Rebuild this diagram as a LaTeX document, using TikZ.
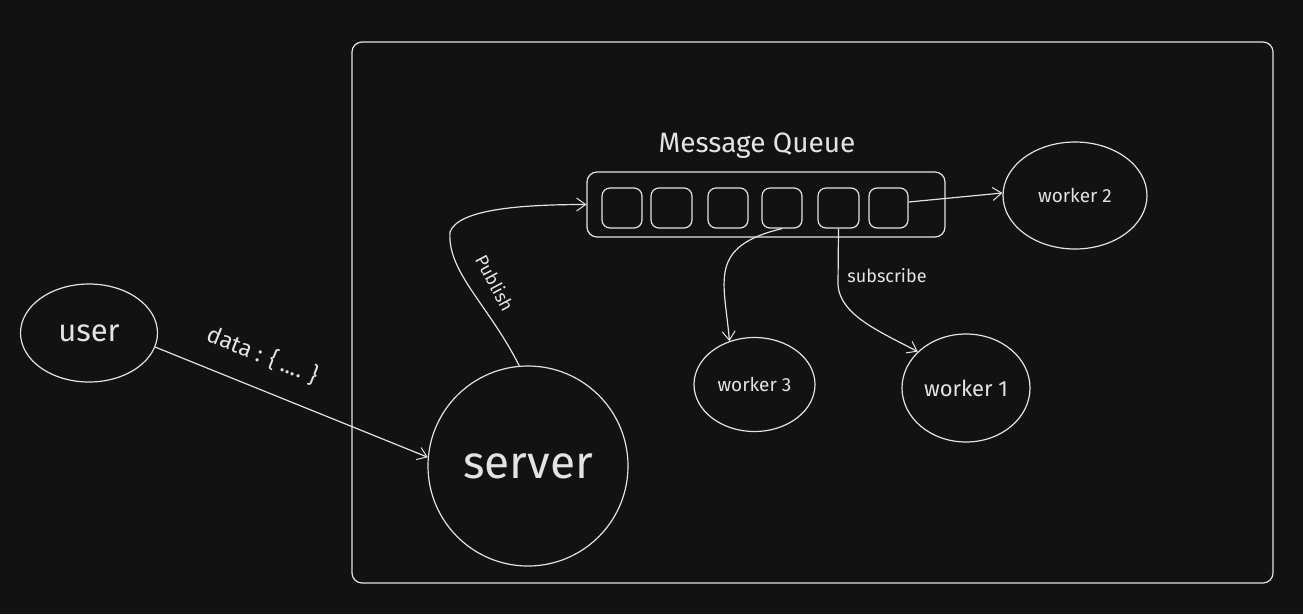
\documentclass[tikz,border=0pt]{standalone}
\usepackage{fontspec}
\setmainfont{Fira Sans}
\usetikzlibrary{shapes.geometric,arrows.meta}
\definecolor{bg}{HTML}{121212}
\definecolor{ink}{HTML}{E3E3E3}
\tikzset{
  every node/.style={text=ink},
  line/.style={draw=ink, line width=1.2pt},
  arr/.style={line, -{Straight Barb[length=9pt,width=13pt,line width=1pt]}},
  oval/.style={line, ellipse, inner sep=0pt},
  cell/.style={line, rounded corners=8pt, minimum width=40pt, minimum height=40pt, inner sep=0pt},
  lbl/.style={inner sep=1pt, font=\fontsize{18}{20}\selectfont}
}
\begin{document}
\begin{tikzpicture}[x=1pt,y=-1pt]
\fill[bg] (0,0) rectangle (1303,614);
\useasboundingbox (0,0) rectangle (1303,614);
% frame
\draw[line, rounded corners=10pt] (352,42) rectangle (1273,583);
% nodes
\node[oval, minimum width=137pt, minimum height=98pt, font=\fontsize{31}{34}\selectfont] (user) at (89,333) {user};
\node[oval, circle, minimum size=200pt, font=\fontsize{46}{50}\selectfont] (server) at (528,466) {server};
\node[line, rounded corners=10pt, minimum width=358pt, minimum height=65pt, inner sep=0pt] (queue) at (766,204.5) {};
\node[font=\fontsize{28}{30}\selectfont] (title) at (757,146) {Message Queue};
\node[cell] (q1) at (622,208) {};
\node[cell, minimum width=41pt] (q2) at (671.5,208) {};
\node[cell] (q3) at (728,208) {};
\node[cell] (q4) at (782,208) {};
\node[cell, minimum width=41pt] (q5) at (838.5,208) {};
\node[cell, minimum width=39pt] (q6) at (888.5,208) {};
\node[oval, minimum width=144pt, minimum height=107pt, font=\fontsize{19}{21}\selectfont] (worker2) at (1075,195.5) {worker 2};
\node[oval, minimum width=121pt, minimum height=94pt, font=\fontsize{19}{21}\selectfont] (worker3) at (754.5,384.5) {worker 3};
\node[oval, minimum width=128pt, minimum height=108pt, font=\fontsize{22}{24}\selectfont] (worker1) at (966,388) {worker 1};
% connectors
\draw[arr] (user.-12) -- (server.175);
\node[lbl, rotate=-22, font=\fontsize{23}{26}\selectfont] (datalbl) at (263,355) {data : \{ .... \}};
\coordinate (pbend) at (450,232);
\draw[arr] (server.95) .. controls +(-30,-60) and +(-3,40) .. (pbend)
  .. controls +(8,-22) and +(-70,0) .. (queue.west);
\node[lbl, rotate=-62] (publbl) at (495,283) {Publish};
\draw[arr] ([yshift=6pt]q6.east) -- (worker2.178);
\draw[arr] (q4.south) .. controls +(-75,18) and +(-5,-60) .. (worker3.120);
\coordinate (sbend) at (838,285);
\draw[arr] (q5.south) -- (sbend) .. controls +(2,30) and +(-38,-20) .. (worker1.143);
\node[lbl] (sublbl) at (887,276) {subscribe};
\end{tikzpicture}
\end{document}
